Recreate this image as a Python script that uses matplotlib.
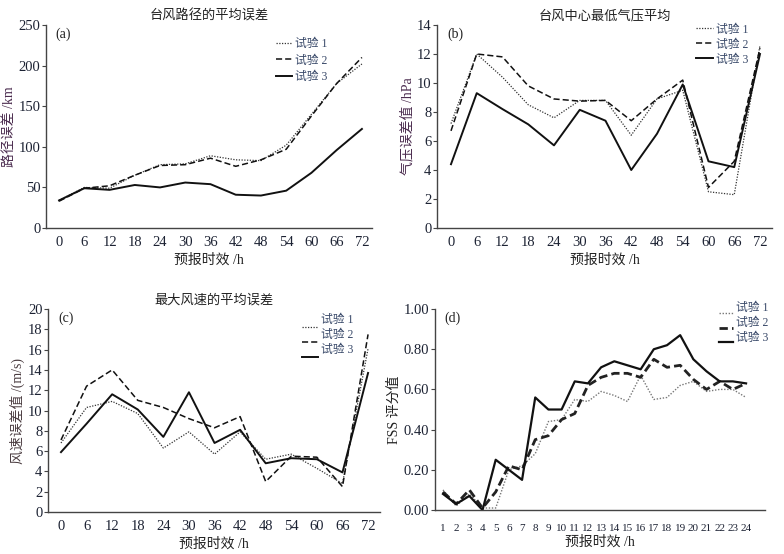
import matplotlib
matplotlib.use('Agg')
import matplotlib.pyplot as plt
from matplotlib.lines import Line2D

plt.rcParams['font.family'] = ['Liberation Serif', 'Noto Sans CJK SC']
plt.rcParams['axes.unicode_minus'] = False

hours = [0, 6, 12, 18, 24, 30, 36, 42, 48, 54, 60, 66, 72]
labels = ['试验 1', '试验 2', '试验 3']

# (a) track error, km
trackExp1 = [34, 50, 49, 65, 78, 79, 89, 84, 83, 102, 140, 178, 202]
trackExp2 = [33, 49, 52, 65, 77, 78, 86, 76, 84, 97, 138, 178, 210]
trackExp3 = [34, 49, 47, 53, 50, 56, 54, 41, 40, 46, 68, 96, 122]

# (b) min pressure error, hPa
presExp1 = [7.2, 12.0, 10.4, 8.5, 7.6, 8.8, 8.8, 6.4, 8.9, 9.5, 2.5, 2.3, 12.6]
presExp2 = [6.7, 12.0, 11.8, 9.8, 8.9, 8.75, 8.8, 7.4, 8.9, 10.2, 2.8, 4.6, 12.4]
presExp3 = [4.4, 9.3, 8.2, 7.15, 5.7, 8.15, 7.4, 4.0, 6.5, 9.9, 4.6, 4.2, 12.0]

# (c) max wind error, m/s
windExp1 = [6.8, 10.3, 10.9, 9.7, 6.3, 7.9, 5.7, 7.9, 5.2, 5.7, 4.3, 2.8, 16.1]
windExp2 = [7.1, 12.4, 14.0, 11.0, 10.3, 9.2, 8.3, 9.4, 3.0, 5.5, 5.4, 2.5, 17.5]
windExp3 = [5.9, 8.7, 11.6, 10.1, 7.4, 11.8, 6.8, 8.1, 4.8, 5.3, 5.2, 3.9, 13.7]

# (d) FSS score
fssHours = list(range(1, 25))
fssExp1 = [0.10, 0.02, 0.08, 0.01, 0.01, 0.20, 0.22, 0.28, 0.44, 0.45, 0.55, 0.54,
           0.59, 0.57, 0.54, 0.67, 0.55, 0.56, 0.62, 0.64, 0.59, 0.60, 0.60, 0.56]
fssExp2 = [0.09, 0.03, 0.10, 0.01, 0.09, 0.22, 0.20, 0.35, 0.37, 0.45, 0.48, 0.62,
           0.66, 0.68, 0.68, 0.66, 0.75, 0.71, 0.72, 0.65, 0.60, 0.64, 0.60, 0.63]
fssExp3 = [0.08, 0.03, 0.07, 0.00, 0.25, 0.20, 0.15, 0.56, 0.50, 0.50, 0.64, 0.63,
           0.71, 0.74, 0.72, 0.70, 0.80, 0.82, 0.87, 0.75, 0.69, 0.64, 0.64, 0.63]

tickColor = '#1c2233'
labelColor = '#4b2c4f'
legendColor = '#3a4a6a'

styles = [
    dict(color='#333333', lw=0.9, dashes=(1, 1.2)),
    dict(color='#111111', lw=1.1, dashes=(4, 2)),
    dict(color='#111111', lw=1.4, linestyle='-'),
]
stylesD = [
    dict(color='#777777', lw=1.0, dashes=(1, 1.2)),
    dict(color='#222222', lw=2.0, dashes=(3, 1.5)),
    dict(color='#111111', lw=1.6, linestyle='-'),
]


def styleAxes(ax):
    for side in ['top', 'right']:
        ax.spines[side].set_visible(False)
    for side in ['left', 'bottom']:
        ax.spines[side].set_color('#444444')
        ax.spines[side].set_linewidth(1.0)
    ax.tick_params(axis='x', length=0, pad=6, labelsize=10.5, labelcolor=tickColor)
    ax.tick_params(axis='y', length=3, width=0.8, color='#444444', pad=1,
                   labelsize=10.5, labelcolor=tickColor)


def drawPanel(ax, x, series, st, title, ylabel, ylim, yticks, tag, yfmt=None,
              ycolor=labelColor):
    for s, k in zip(series, st):
        ax.plot(x, s, **k)
    ax.set_ylim(*ylim)
    ax.set_yticks(yticks)
    if yfmt:
        ax.set_yticklabels([yfmt.format(v) for v in yticks])
    styleAxes(ax)
    if title:
        ax.set_title(title, fontsize=9.5, color='#222222', pad=4)
    ax.set_ylabel(ylabel, fontsize=10, color=ycolor, labelpad=2)
    ax.set_xlabel('预报时效 /h', fontsize=10, color='#222222', labelpad=3)
    ax.text(0.03, 0.99, tag, transform=ax.transAxes, fontsize=10,
            ha='left', va='top', color='#222222')


def addLegend(ax, st, anchor, lineShift=0.0, hlen=1.4, spacing=0.25):
    handles = [Line2D([], [], **k) for k in st]
    opts = dict(loc='upper left', frameon=False, fontsize=8.5, handlelength=hlen,
                handletextpad=0.25, labelspacing=spacing, borderaxespad=0)
    if lineShift == 0.0:
        ax.legend(handles, labels, bbox_to_anchor=anchor,
                  labelcolor=legendColor, **opts)
        return
    # lines sit lower than their text in the original
    textLeg = ax.legend([Line2D([], [], lw=0)] * 3, labels, bbox_to_anchor=anchor,
                        labelcolor=legendColor, **opts)
    ax.add_artist(textLeg)
    ax.legend(handles, ['', '', ''],
              bbox_to_anchor=(anchor[0], anchor[1] - lineShift), **opts)


fig = plt.figure(figsize=(7.84, 5.54), dpi=100)
axA = fig.add_axes([0.0587, 0.5884, 0.4158, 0.3665])
axB = fig.add_axes([0.5574, 0.5884, 0.4273, 0.3665])
axC = fig.add_axes([0.0612, 0.0758, 0.4235, 0.3664])
axD = fig.add_axes([0.5548, 0.0794, 0.4210, 0.3628])

drawPanel(axA, hours, [trackExp1, trackExp2, trackExp3], styles,
          '台风路径的平均误差', '路径误差 /km', (0, 250), range(0, 251, 50), '(a)')
axA.set_xlim(-3.1, 74.4)
axA.set_xticks(hours)
addLegend(axA, styles, (0.69, 0.96), spacing=0.4)

drawPanel(axB, hours, [presExp1, presExp2, presExp3], styles,
          '台风中心最低气压平均', '气压误差值 /hPa', (0, 14), range(0, 15, 2), '(b)')
axB.set_xlim(-3.26, 74.8)
axB.set_xticks(hours)
addLegend(axB, styles, (0.76, 1.03))

drawPanel(axC, hours, [windExp1, windExp2, windExp3], styles,
          '最大风速的平均误差', '风速误差值 /(m/s)', (0, 20), range(0, 21, 2), '(c)',
          ycolor='#4a3c40')
axC.set_xlim(-3.05, 74.8)
axC.set_xticks(hours)
addLegend(axC, styles, (0.75, 1.0), lineShift=0.04)

drawPanel(axD, fssHours, [fssExp1, fssExp2, fssExp3], stylesD,
          None, 'FSS 评分值', (0, 1.0), [0, 0.2, 0.4, 0.6, 0.8, 1.0], '(d)',
          yfmt='{:.2f}', ycolor='#222222')
axD.set_xlim(0.39, 25.44)
axD.set_xticks(fssHours)
axD.tick_params(axis='x', labelsize=8, pad=10)
axD.set_xlabel('预报时效 /h', fontsize=10, color='#222222', labelpad=2)
addLegend(axD, stylesD, (0.845, 1.06), lineShift=0.03, hlen=1.2)

fig.savefig('out.png', dpi=100, facecolor='white')
